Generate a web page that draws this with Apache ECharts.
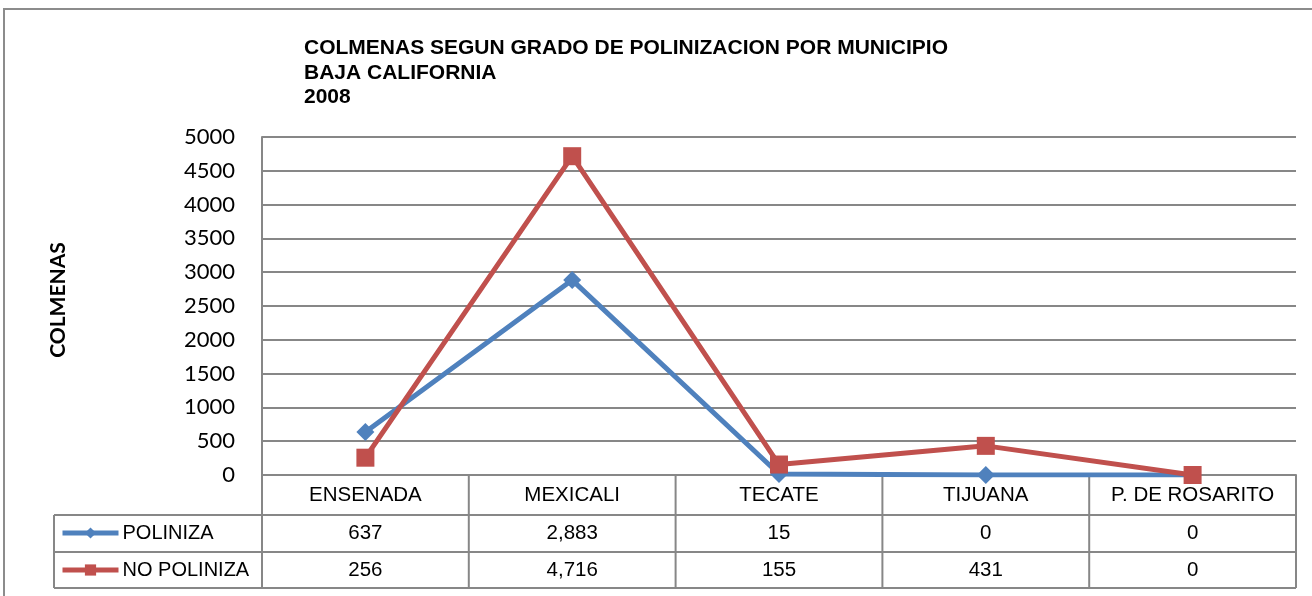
<!DOCTYPE html>
<html>
<head>
<meta charset="utf-8">
<script src="https://cdn.jsdelivr.net/npm/echarts@6/dist/echarts.min.js"></script>
<style>
html,body{margin:0;padding:0;background:#fff;}
#main{width:1312px;height:596px;}
</style>
</head>
<body>
<div id="main"></div>
<script>
// datos
var municipios = ['ENSENADA', 'MEXICALI', 'TECATE', 'TIJUANA', 'P. DE ROSARITO'];
var poliniza = [637, 2883, 15, 0, 0];
var noPoliniza = [256, 4716, 155, 431, 0];
var yTicks = [0, 500, 1000, 1500, 2000, 2500, 3000, 3500, 4000, 4500, 5000];

// layout de la tabla
var gL = 262, gR = 1296, gTop = 137, gBot = 475;
var rowH = [515, 552, 588];
var legL = 54;
var gris = '#878787';

function fmt(v) { return v.toLocaleString('en-US'); }

var tablaLineas = [];
// horizontales
rowH.forEach(function (y) {
    tablaLineas.push({
        type: 'line', silent: true,
        shape: {x1: legL, y1: y, x2: gR, y2: y},
        style: {stroke: gris, lineWidth: 2}
    });
});
// vertical izquierda de la leyenda
tablaLineas.push({
    type: 'line', silent: true,
    shape: {x1: legL, y1: rowH[0], x2: legL, y2: rowH[2]},
    style: {stroke: gris, lineWidth: 2}
});
// verticales de columnas
for (var i = 0; i <= municipios.length; i++) {
    var x = gL + (gR - gL) * i / municipios.length;
    tablaLineas.push({
        type: 'line', silent: true,
        shape: {x1: x, y1: gBot, x2: x, y2: rowH[2]},
        style: {stroke: gris, lineWidth: 2}
    });
}
// marco exterior
tablaLineas.push({
    type: 'rect', silent: true,
    shape: {x: 4, y: 9, width: 1340, height: 640},
    style: {fill: 'none', stroke: '#8c8c8c', lineWidth: 2}
});

var legendBase = {
    left: 55,
    itemWidth: 56,
    itemHeight: 14,
    lineStyle: {width: 5},
    textStyle: {fontFamily: 'Liberation Sans', fontSize: 20, color: '#000', padding: [0, 0, 0, -1]}
};

var myChart = echarts.init(document.getElementById('main'));
var option = {
    backgroundColor: '#fff',
    animation: false,
    title: {
        text: 'COLMENAS SEGUN GRADO DE POLINIZACION POR MUNICIPIO\nBAJA CALIFORNIA\n2008',
        left: 299,
        top: 31,
        textStyle: {
            fontFamily: 'Liberation Sans',
            fontWeight: 'bold',
            fontSize: 21,
            lineHeight: 24.5,
            color: '#000'
        }
    },
    legend: [
        Object.assign({top: 518, data: ['POLINIZA']}, legendBase),
        Object.assign({top: 555, data: ['NO POLINIZA']}, legendBase)
    ],
    grid: {left: gL, right: 1312 - gR, top: gTop, bottom: 596 - gBot},
    xAxis: {
        type: 'category',
        data: municipios,
        boundaryGap: true,
        axisLine: {lineStyle: {color: gris, width: 2}},
        axisTick: {show: false},
        axisLabel: {
            margin: 2,
            interval: 0,
            formatter: function (v, idx) {
                return '{a|' + v + '}\n{a|' + fmt(poliniza[idx]) + '}\n{a|' + fmt(noPoliniza[idx]) + '}';
            },
            rich: {
                a: {fontFamily: 'Liberation Sans', fontSize: 20.5, lineHeight: 37.5, color: '#000', align: 'center'}
            }
        }
    },
    yAxis: {
        type: 'value',
        min: yTicks[0],
        max: yTicks[yTicks.length - 1],
        interval: 500,
        name: 'COLMENAS',
        nameLocation: 'middle',
        nameGap: 193,
        nameRotate: 90,
        nameTextStyle: {fontFamily: 'Lato', fontWeight: 'bold', fontSize: 21, color: '#000', padding: [0, 0, 0, 12]},
        axisLine: {show: true, lineStyle: {color: gris, width: 2}},
        axisTick: {show: false},
        axisLabel: {
            margin: 27, fontFamily: 'Lato', fontSize: 22, color: '#000',
            formatter: function (v) { return String(v); }
        },
        splitLine: {lineStyle: {color: gris, width: 2}}
    },
    series: [
        {
            name: 'POLINIZA',
            type: 'line',
            data: poliniza,
            symbol: 'diamond',
            symbolSize: 18,
            lineStyle: {color: '#4F81BD', width: 5},
            itemStyle: {color: '#4F81BD'}
        },
        {
            name: 'NO POLINIZA',
            type: 'line',
            data: noPoliniza,
            symbol: 'rect',
            symbolSize: 18,
            lineStyle: {color: '#C0504D', width: 5},
            itemStyle: {color: '#C0504D'}
        }
    ],
    graphic: tablaLineas
};
myChart.setOption(option);
</script>
</body>
</html>
